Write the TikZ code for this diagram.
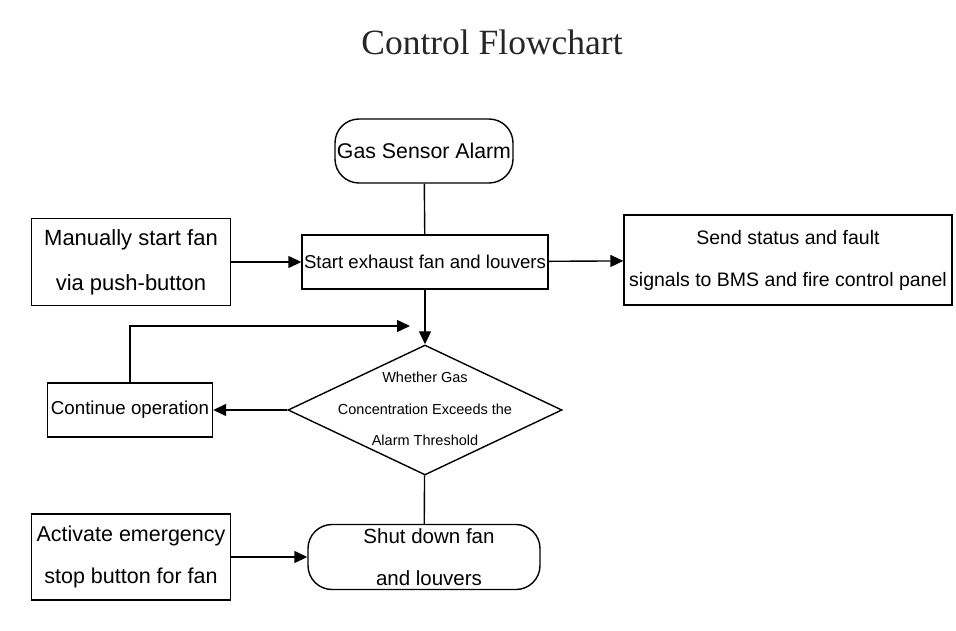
\documentclass[tikz,border=0pt]{standalone}
\usepackage{fontspec}
\setmainfont{Liberation Sans}
\newfontfamily\titlefont{Liberation Serif}
\usetikzlibrary{shapes.geometric, arrows.meta}

\begin{document}
\begin{tikzpicture}[x=1pt, y=-1pt,
  box/.style={draw, line width=1.4pt, align=center, inner sep=0pt},
  flow/.style={line width=1.4pt, -{Triangle[length=13pt, width=12pt]}},
  link/.style={line width=1.4pt}]
\useasboundingbox (0,0) rectangle (956,631);
\node[black!85, font=\titlefont\fontsize{35.5}{40}\selectfont] (title) at (492,42) {Control Flowchart};
\node[box, rounded corners=24pt, minimum width=178pt, minimum height=64pt, font=\fontsize{21.3}{24}\selectfont] (alarm) at (424,151) {Gas Sensor Alarm};
\node[box, minimum width=246pt, minimum height=54pt, font=\fontsize{18.6}{22}\selectfont] (start) at (425,262) {Start exhaust fan and louvers};
\node[box, minimum width=199pt, minimum height=87pt, font=\fontsize{22}{45}\selectfont] (manual) at (131,262) {Manually start fan\\via push-button};
\node[box, minimum width=328pt, minimum height=90pt, font=\fontsize{19.5}{42}\selectfont] (status) at (788,260) {Send status and fault\\signals to BMS and fire control panel};
\node[draw, diamond, line width=1.4pt, minimum width=274pt, minimum height=130pt, inner sep=0pt] (check) at (425,410) {};
\node[align=center, font=\fontsize{14.5}{31.5}\selectfont] (checktext) at (425,409) {Whether Gas\\Concentration Exceeds the\\Alarm Threshold};
\node[box, minimum width=165pt, minimum height=54pt, font=\fontsize{18.7}{22}\selectfont] (continue) at (130,410) {Continue operation};
\node[box, rounded corners=24pt, minimum width=232pt, minimum height=65pt, font=\fontsize{20.5}{42}\selectfont] (shutdown) at (424,557) {\hspace*{10pt}Shut down fan\\\hspace*{10pt}and louvers};
\node[box, minimum width=199pt, minimum height=86pt, font=\fontsize{21.5}{42}\selectfont] (estop) at (131,557) {Activate emergency\\stop button for fan};
\coordinate (loopin) at (410,326);

\draw[link] (alarm) -- (start);
\draw[flow] (manual) -- (start);
\draw[flow] (start) -- (status);
\draw[flow] (start) -- (check);
\draw[flow] (continue.north) |- (loopin);
\draw[flow] (check) -- (continue);
\draw[link] (check) -- (shutdown);
\draw[flow] (estop) -- (shutdown);
\end{tikzpicture}
\end{document}
